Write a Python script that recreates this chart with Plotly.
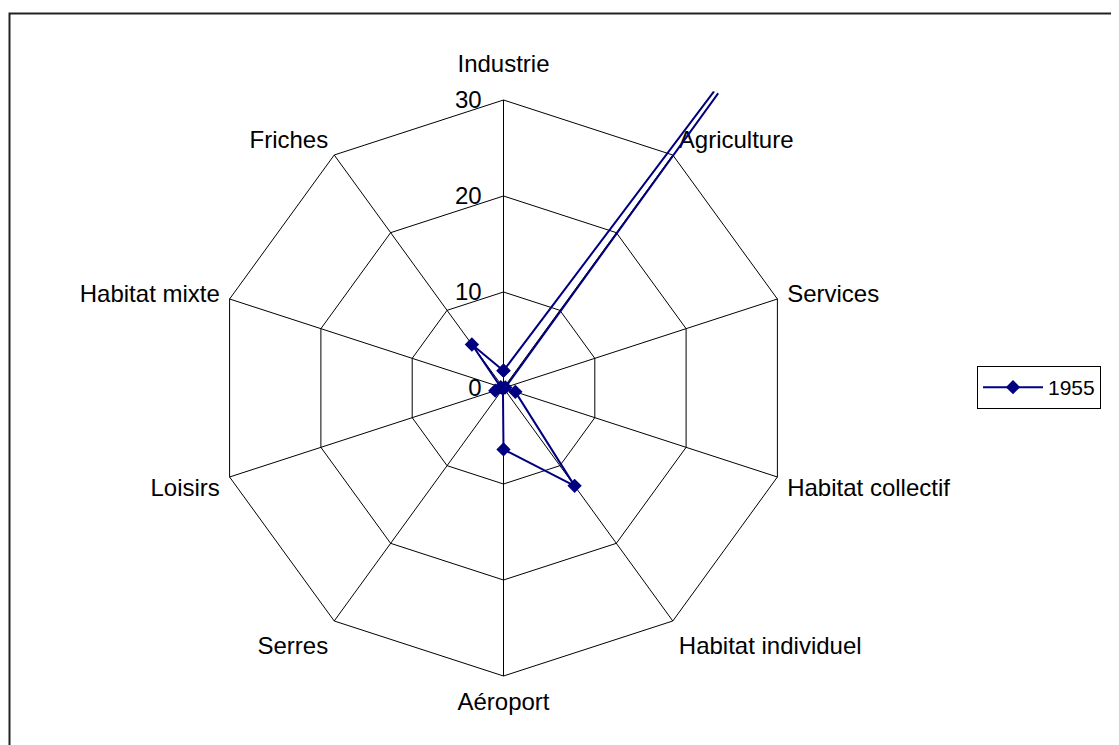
import plotly.graph_objects as go

categories = ["Industrie", "Agriculture", "Services", "Habitat collectif",
              "Habitat individuel", "Aéroport", "Serres", "Loisirs",
              "Habitat mixte", "Friches"]
values_1955 = [1.8, 62, 0.2, 1.3, 12.6, 6.4, 0.1, 0.9, 0.3, 5.6]
radial_ticks = [0, 10, 20, 30]
series_name = "1955"

W, H = 1119, 745
OFF = 8.0                      # page body margin of the browser
cx, cy = 503.5 - OFF, 388.0 - OFF
R = 288.0                      # pixel radius of the value 30
RMAX = 30.0                    # axis maximum
REXT = 38.0                    # extended range used for the overflowing line
R2 = R * REXT / RMAX


def dom(rad):
    return dict(x=[(cx - rad) / W, (cx + rad) / W],
                y=[(H - cy - rad) / H, (H - cy + rad) / H])


# the top category is labelled by a text point (sits higher, as in the reference)
cat_labels = ["" if i == 0 else c for i, c in enumerate(categories)]

fig = go.Figure()
# carrier trace on the gridded subplot, also carrying the top category label
fig.add_trace(go.Scatterpolar(
    r=[RMAX], theta=categories[:1], mode="markers+text",
    text=categories[:1], textposition="top center",
    textfont=dict(size=24, color="black"),
    marker=dict(size=34, opacity=0), showlegend=False, hoverinfo="skip",
    cliponaxis=False, subplot="polar",
))
fig.add_trace(go.Scatterpolar(
    r=values_1955 + values_1955[:1],
    theta=categories + categories[:1],
    mode="lines+markers",
    name=series_name,
    line=dict(color="#000080", width=2),
    marker=dict(symbol="diamond", size=11, color="#000080"),
    subplot="polar2",
))

common_ang = dict(rotation=90, direction="clockwise",
                  categoryorder="array", categoryarray=categories)

fig.update_layout(
    width=W, height=H,
    margin=dict(l=0, r=0, t=0, b=0),
    paper_bgcolor="white",
    font=dict(family="Liberation Sans, Arial, sans-serif", size=24, color="black"),
    showlegend=True,
    legend=dict(x=(977 - OFF) / W, y=1 - (366 - OFF) / H, xanchor="left", yanchor="top",
                bordercolor="black", borderwidth=1, bgcolor="white",
                itemwidth=60, font=dict(size=21)),
    polar=dict(
        domain=dom(R),
        bgcolor="white",
        gridshape="linear",
        angularaxis=dict(**common_ang,
                         tickmode="array", tickvals=categories, ticktext=cat_labels,
                         linecolor="black", linewidth=1,
                         gridcolor="black", gridwidth=1,
                         ticks="outside", ticklen=5, tickcolor="rgba(0,0,0,0)",
                         tickfont=dict(size=24)),
        radialaxis=dict(range=[0, RMAX], tickvals=radial_ticks,
                        ticktext=[str(t) for t in radial_ticks],
                        angle=90, tickangle=90, side="counterclockwise", showline=False,
                        gridcolor="black", gridwidth=1,
                        ticks="outside", ticklen=13, tickcolor="rgba(0,0,0,0)",
                        tickfont=dict(size=24)),
    ),
    polar2=dict(
        domain=dom(R2),
        bgcolor="rgba(0,0,0,0)",
        gridshape="linear",
        angularaxis=dict(**common_ang, showline=False, showgrid=False,
                         showticklabels=False, ticks=""),
        radialaxis=dict(range=[0, REXT], showline=False, showgrid=False,
                        showticklabels=False, ticks=""),
    ),
    shapes=[dict(type="rect", xref="paper", yref="paper",
                 x0=(9.5 - OFF) / W, x1=1.05, y0=-0.05, y1=1 - (13.5 - OFF) / H,
                 line=dict(color="#222222", width=2))],
)

fig.write_html("out.html")
